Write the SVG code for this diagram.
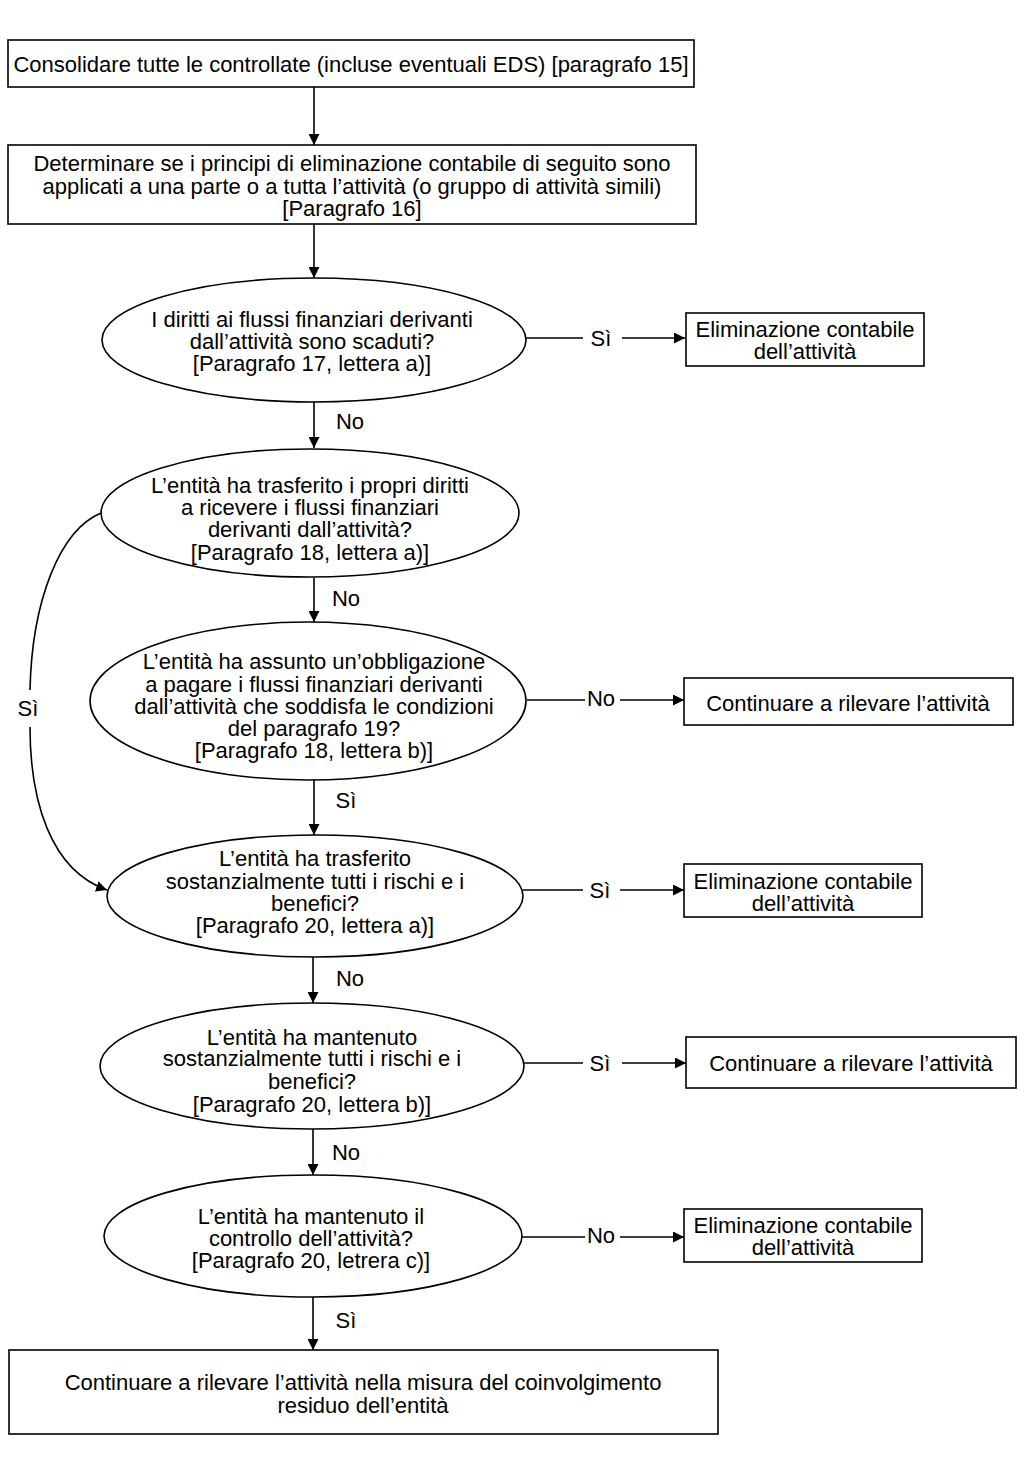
<svg xmlns="http://www.w3.org/2000/svg" width="1024" height="1457" viewBox="0 0 1024 1457">
<style>
.n{fill:#fff;stroke:#000;stroke-width:1.6}
.t{font-family:"Liberation Sans",Arial,sans-serif;font-size:22px;fill:#000;text-anchor:middle}
.c{fill:none;stroke:#000;stroke-width:1.6}
</style>
<defs>
<marker id="ah" viewBox="0 0 10 10" refX="10" refY="5" markerWidth="11" markerHeight="11" markerUnits="userSpaceOnUse" orient="auto">
<path d="M0,0 L10,5 L0,10 z" fill="#000"/>
</marker>
</defs>
<rect width="1024" height="1457" fill="#fff"/>
<g id="connectors">
<line class="c" x1="314" y1="87" x2="314" y2="145" marker-end="url(#ah)"/>
<line class="c" x1="314" y1="224" x2="314" y2="278" marker-end="url(#ah)"/>
<line class="c" x1="526" y1="338" x2="583" y2="338"/>
<line class="c" x1="622" y1="338" x2="685" y2="338" marker-end="url(#ah)"/>
<text class="t" x="601" y="346">Sì</text>
<line class="c" x1="314" y1="402" x2="314" y2="448" marker-end="url(#ah)"/>
<text class="t" x="350" y="429">No</text>
<line class="c" x1="314" y1="578" x2="314" y2="622" marker-end="url(#ah)"/>
<text class="t" x="346" y="606">No</text>
<line class="c" x1="527" y1="700" x2="585" y2="700"/>
<line class="c" x1="620" y1="700" x2="684" y2="700" marker-end="url(#ah)"/>
<text class="t" x="601" y="706">No</text>
<line class="c" x1="314" y1="780" x2="314" y2="835" marker-end="url(#ah)"/>
<text class="t" x="346" y="808">Sì</text>
<path class="c" d="M101,513 C60,530 32,600 30,690"/>
<path class="c" d="M30,727 C30,800 50,870 107,890" marker-end="url(#ah)"/>
<text class="t" x="28" y="716">Sì</text>
<line class="c" x1="523" y1="890" x2="583" y2="890"/>
<line class="c" x1="620" y1="890" x2="684" y2="890" marker-end="url(#ah)"/>
<text class="t" x="600" y="898">Sì</text>
<line class="c" x1="313" y1="957" x2="313" y2="1003" marker-end="url(#ah)"/>
<text class="t" x="350" y="986">No</text>
<line class="c" x1="524" y1="1063" x2="583" y2="1063"/>
<line class="c" x1="622" y1="1063" x2="686" y2="1063" marker-end="url(#ah)"/>
<text class="t" x="600" y="1071">Sì</text>
<line class="c" x1="313" y1="1129" x2="313" y2="1175" marker-end="url(#ah)"/>
<text class="t" x="346" y="1160">No</text>
<line class="c" x1="522" y1="1237" x2="585" y2="1237"/>
<line class="c" x1="620" y1="1237" x2="684" y2="1237" marker-end="url(#ah)"/>
<text class="t" x="601" y="1243">No</text>
<line class="c" x1="313" y1="1297" x2="313" y2="1350" marker-end="url(#ah)"/>
<text class="t" x="346" y="1328">Sì</text>
</g>
<g id="n1">
<rect class="n" x="8" y="40" width="686" height="47"/>
<text class="t" x="351" y="72">Consolidare tutte le controllate (incluse eventuali EDS) [paragrafo 15]</text>
</g>
<g id="n2">
<rect class="n" x="8" y="145" width="688" height="79"/>
<text class="t" x="352" y="171">Determinare se i principi di eliminazione contabile di seguito sono</text>
<text class="t" x="352" y="194">applicati a una parte o a tutta l’attività (o gruppo di attività simili)</text>
<text class="t" x="352" y="216">[Paragrafo 16]</text>
</g>
<g id="d1">
<ellipse class="n" cx="314" cy="340" rx="212" ry="62"/>
<text class="t" x="312" y="327">I diritti ai flussi finanziari derivanti</text>
<text class="t" x="312" y="349">dall’attività sono scaduti?</text>
<text class="t" x="312" y="371">[Paragrafo 17, lettera a)]</text>
</g>
<g id="r1">
<rect class="n" x="686" y="313" width="238" height="53"/>
<text class="t" x="805" y="337">Eliminazione contabile</text>
<text class="t" x="805" y="359">dell’attività</text>
</g>
<g id="d2">
<ellipse class="n" cx="310" cy="513" rx="209" ry="64"/>
<text class="t" x="310" y="493">L’entità ha trasferito i propri diritti</text>
<text class="t" x="310" y="515">a ricevere i flussi finanziari</text>
<text class="t" x="310" y="537">derivanti dall’attività?</text>
<text class="t" x="310" y="560">[Paragrafo 18, lettera a)]</text>
</g>
<g id="d3">
<ellipse class="n" cx="308" cy="701" rx="218" ry="79"/>
<text class="t" x="314" y="669">L’entità ha assunto un’obbligazione</text>
<text class="t" x="314" y="692">a pagare i flussi finanziari derivanti</text>
<text class="t" x="314" y="714">dall’attività che soddisfa le condizioni</text>
<text class="t" x="314" y="736">del paragrafo 19?</text>
<text class="t" x="314" y="758">[Paragrafo 18, lettera b)]</text>
</g>
<g id="r2">
<rect class="n" x="684" y="678" width="329" height="47"/>
<text class="t" x="848" y="711">Continuare a rilevare l’attività</text>
</g>
<g id="d4">
<ellipse class="n" cx="315" cy="896" rx="208" ry="61"/>
<text class="t" x="315" y="866">L’entità ha trasferito</text>
<text class="t" x="315" y="889">sostanzialmente tutti i rischi e i</text>
<text class="t" x="315" y="911">benefici?</text>
<text class="t" x="315" y="933">[Paragrafo 20, lettera a)]</text>
</g>
<g id="r3">
<rect class="n" x="684" y="864" width="238" height="53"/>
<text class="t" x="803" y="889">Eliminazione contabile</text>
<text class="t" x="803" y="911">dell’attività</text>
</g>
<g id="d5">
<ellipse class="n" cx="312" cy="1066" rx="212" ry="63"/>
<text class="t" x="312" y="1045">L’entità ha mantenuto</text>
<text class="t" x="312" y="1066">sostanzialmente tutti i rischi e i</text>
<text class="t" x="312" y="1089">benefici?</text>
<text class="t" x="312" y="1112">[Paragrafo 20, lettera b)]</text>
</g>
<g id="r4">
<rect class="n" x="686" y="1037" width="330" height="51"/>
<text class="t" x="851" y="1071">Continuare a rilevare l’attività</text>
</g>
<g id="d6">
<ellipse class="n" cx="313" cy="1236" rx="209" ry="61"/>
<text class="t" x="311" y="1224">L’entità ha mantenuto il</text>
<text class="t" x="311" y="1246">controllo dell’attività?</text>
<text class="t" x="311" y="1268">[Paragrafo 20, letrera c)]</text>
</g>
<g id="r5">
<rect class="n" x="684" y="1209" width="238" height="53"/>
<text class="t" x="803" y="1233">Eliminazione contabile</text>
<text class="t" x="803" y="1255">dell’attività</text>
</g>
<g id="n3">
<rect class="n" x="9" y="1350" width="709" height="84"/>
<text class="t" x="363" y="1390">Continuare a rilevare l’attività nella misura del coinvolgimento</text>
<text class="t" x="363" y="1413">residuo dell’entità</text>
</g>
</svg>
